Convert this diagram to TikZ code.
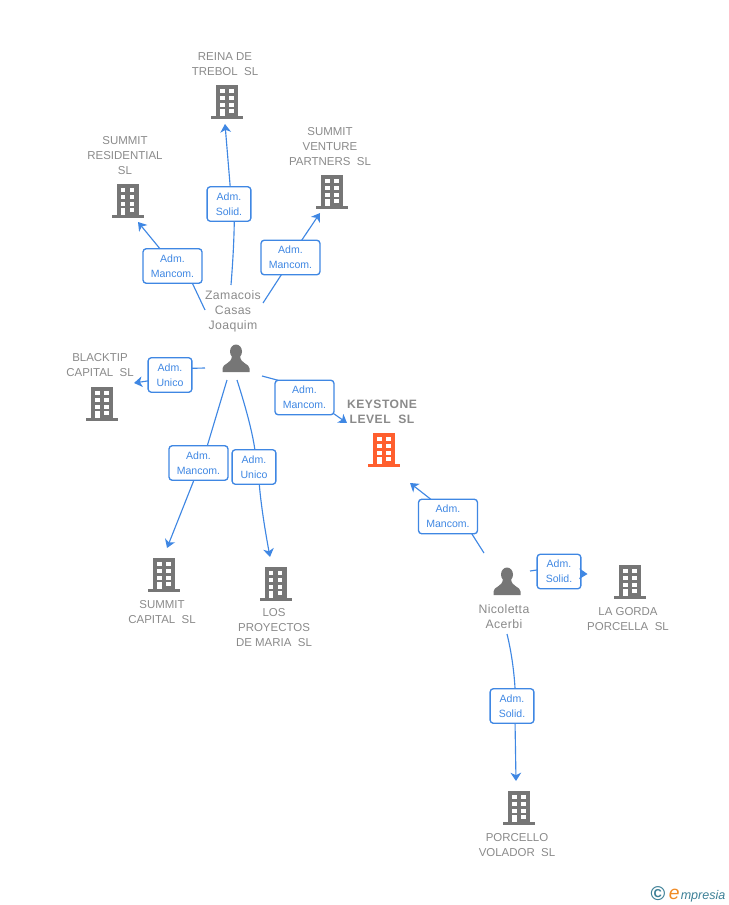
\documentclass[tikz,border=0pt]{standalone}
\usepackage{fontspec}
\setmainfont{Liberation Sans}
\usetikzlibrary{arrows.meta}
\definecolor{edgeblue}{HTML}{3F87E3}
\definecolor{labgray}{HTML}{8A8A8A}
\definecolor{icongray}{HTML}{767676}
\definecolor{iconorange}{HTML}{FF5F2E}
\definecolor{logoteal}{HTML}{3C7F96}
\definecolor{logoorange}{HTML}{F08A24}
\tikzset{
  x=0.75pt,y=-0.75pt,
  conn/.style={draw=edgeblue,line width=0.85pt},
  arr/.style={conn,-{Stealth[length=6.2pt,width=8pt,inset=1.8pt]}},
  rolebox/.style={draw=edgeblue,line width=1pt,fill=white,rounded corners=2.4pt,inner sep=0pt,outer sep=0pt,
    minimum height=25.9pt,align=center,text=edgeblue,font=\fontsize{7.9}{11.25}\selectfont},
  widebox/.style={rolebox,minimum width=44.2pt},
  narrowbox/.style={rolebox,minimum width=32.8pt},
  entity/.style={align=center,text=labgray,inner sep=0pt,yshift=-0.75pt,font=\fontsize{8.6}{11.25}\selectfont},
  personname/.style={entity,font=\fontsize{9.2}{11.25}\selectfont\addfontfeatures{LetterSpace=3}},
  keyentity/.style={entity,font=\fontsize{9.1}{11.25}\selectfont\bfseries\addfontfeatures{LetterSpace=4}},
  pics/bldg/.style={code={
    \fill[#1] (-11,0) rectangle (11,31);
    \fill[#1] (-16,31) rectangle (16,34);
    \foreach \yy in {4,11,18,24}{\fill[white] (-7,\yy) rectangle (-2.5,\yy+4.4);\fill[white] (2.2,\yy) rectangle (6.7,\yy+4.4);}
    \fill[white] (-7,24) rectangle (-2.5,31);
  }},
  pics/person/.style={code={
    \fill[icongray] (0,-20.5) circle[x radius=6,y radius=7];
    \fill[icongray] (-13.5,0) -- (-13.5,-3.5) .. controls (-13.5,-8.5) and (-4.5,-8) .. (-4,-16) -- (4,-16)
      .. controls (4.5,-8) and (13.5,-8.5) .. (13.5,-3.5) -- (13.5,0) -- cycle;
  }}
}
\begin{document}
\begin{tikzpicture}
\useasboundingbox (0,0) rectangle (728,905);
% company and person names
\node[entity] (reina) at (225,63.5) {REINA DE\\TREBOL\ \ SL};
\node[entity] (resid) at (125,155) {SUMMIT\\RESIDENTIAL\\SL};
\node[entity] (vent) at (330,146) {SUMMIT\\VENTURE\\PARTNERS\ \ SL};
\node[personname] (zam) at (233,310.3) {Zamacois\\Casas\\Joaquim};
\node[entity] (black) at (100,364.5) {BLACKTIP\\CAPITAL\ \ SL};
\node[keyentity] (key) at (382,411) {KEYSTONE\\LEVEL\ \ SL};
\node[entity] (cap) at (162,611) {SUMMIT\\CAPITAL\ \ SL};
\node[entity] (los) at (274,626.5) {LOS\\PROYECTOS\\DE MARIA\ \ SL};
\node[personname] (nic) at (504,615.3) {Nicoletta\\Acerbi};
\node[entity] (gorda) at (628,618) {LA GORDA\\PORCELLA\ \ SL};
\node[entity] (porc) at (517,844) {PORCELLO\\VOLADOR\ \ SL};
% icons
\pic at (227,85) {bldg=icongray};
\pic at (127.5,184) {bldg=icongray};
\pic at (332,175) {bldg=icongray};
\pic at (102,387) {bldg=icongray};
\pic at (384,433) {bldg=iconorange};
\pic at (164,558) {bldg=icongray};
\pic at (275.5,567) {bldg=icongray};
\pic at (630,565) {bldg=icongray};
\pic at (519,791) {bldg=icongray};
\pic at (236,372) {person};
\pic at (507,595) {person};
% role boxes
\node[narrowbox] (bReina) at (229,204) {Adm.\\Solid.};
\node[widebox] (bResid) at (172.5,266) {Adm.\\Mancom.};
\node[widebox] (bVent) at (290.5,257.5) {Adm.\\Mancom.};
\node[narrowbox] (bBlack) at (170,375) {Adm.\\Unico};
\node[widebox] (bKey) at (304.5,397.5) {Adm.\\Mancom.};
\node[widebox] (bCap) at (198.5,463) {Adm.\\Mancom.};
\node[narrowbox] (bLos) at (254,467) {Adm.\\Unico};
\node[widebox] (bNic) at (448,516.5) {Adm.\\Mancom.};
\node[narrowbox] (bGorda) at (559,571.5) {Adm.\\Solid.};
\node[narrowbox] (bPorc) at (512,706) {Adm.\\Solid.};
% connector ends
\coordinate (sReina) at (231,285); \coordinate (tReina) at (225,124);
\coordinate (sResid) at (205,310); \coordinate (tResid) at (138,222);
\coordinate (sVent) at (263,303); \coordinate (tVent) at (320,213);
\coordinate (sBlack) at (205,368); \coordinate (tBlack) at (134,383);
\coordinate (sKey) at (262,376); \coordinate (tKey) at (347,423);
\coordinate (sCap) at (227,380); \coordinate (tCap) at (167,548);
\coordinate (sLos) at (237,380); \coordinate (tLos) at (270,557);
\coordinate (sNic) at (484,553); \coordinate (tNic) at (410,483);
\coordinate (sGorda) at (530,571); \coordinate (tGorda) at (587.5,574);
\coordinate (sPorc) at (507,634); \coordinate (tPorc) at (516,781);
% connectors
\draw[conn] (sReina) .. controls (233,260) and (234,240) .. (bReina.-73.6);
\draw[arr] (bReina.86.6) -- (tReina);
\draw[conn] (sResid) -- (bResid.-41);
\draw[arr] (bResid.126) -- (tResid);
\draw[conn] (sVent) -- (bVent.-118);
\draw[arr] (bVent.57) -- (tVent);
\draw[conn] (sBlack) -- (bBlack.17.6);
\draw[arr] (bBlack.195) -- (tBlack);
\draw[conn] (sKey) -- (bKey.147.5);
\draw[arr] (bKey.-29) -- (tKey);
\draw[conn] (sCap) -- (bCap.63);
\draw[arr] (bCap.-105) -- (tCap);
\draw[conn] (sLos) .. controls (245,405) and (252,430) .. (bLos.87);
\draw[arr] (bLos.-73.6) .. controls (261,505) and (265,530) .. (tLos);
\draw[conn] (sNic) -- (bNic.-36);
\draw[arr] (bNic.135.8) -- (tNic);
\draw[conn] (sGorda) -- (bGorda.176);
\draw[arr] (bGorda.-6.5) -- (tGorda);
\draw[conn] (sPorc) .. controls (511,650) and (514,670) .. (bPorc.80);
\draw[arr] (bPorc.-80) -- (tPorc);
% logo
\node[inner sep=0pt,text=logoteal,font=\fontsize{15}{15}\selectfont\bfseries] (logoC) at (658,894) {©};
\node[inner sep=0pt,anchor=base west,text=logoorange,font=\fontsize{14.5}{15}\selectfont\itshape] (logoE) at (668.5,899) {e};
\node[inner sep=0pt,anchor=base west,text=logoteal,font=\fontsize{9.4}{11}\selectfont\itshape] (logoT) at (680.5,899) {mpresia};
\end{tikzpicture}
\end{document}
